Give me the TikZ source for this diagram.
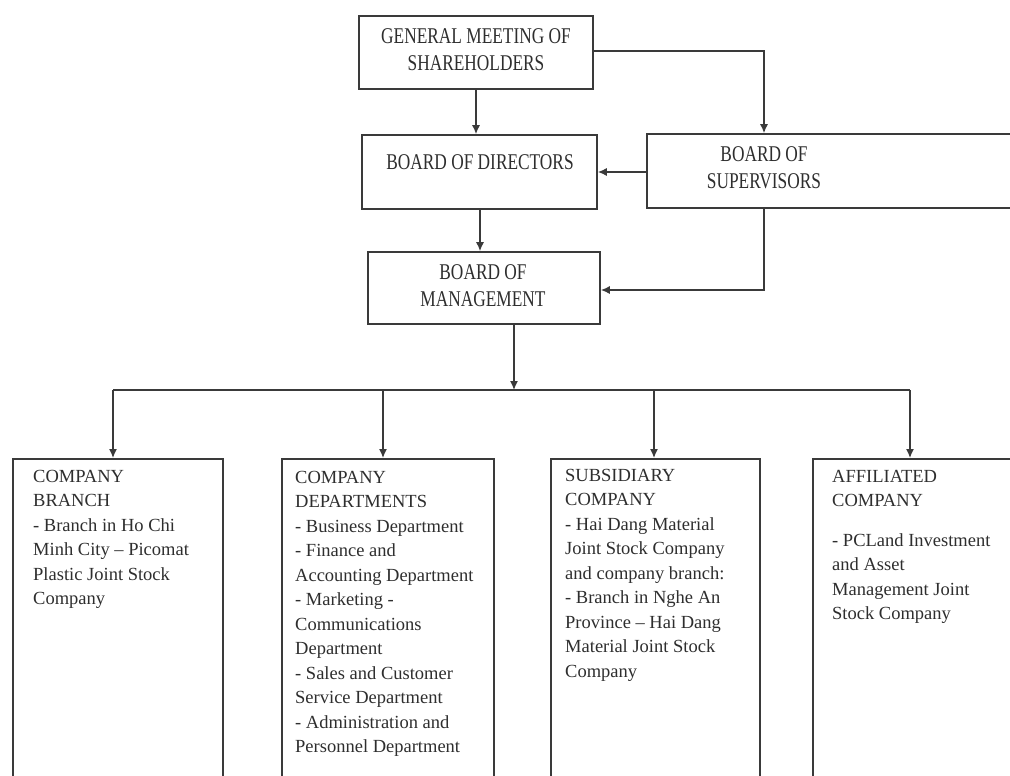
\documentclass[tikz,border=0pt]{standalone}
\usepackage{fontspec}
\setmainfont{Liberation Serif}
\newfontfamily\topfont[FakeStretch=0.77]{Liberation Serif}
\usetikzlibrary{arrows.meta}
\definecolor{ink}{HTML}{3A3A3A}
\definecolor{txt}{HTML}{2E2E2E}
\tikzset{
  box/.style={draw=ink, line width=1.6pt, inner sep=0pt},
  toplbl/.style={text=txt, align=center, inner sep=0pt, font=\topfont\fontsize{22.5}{27}\selectfont},
  botlbl/.style={text=txt, align=left, inner sep=0pt, anchor=north west, font=\fontsize{18.5}{24.5}\selectfont},
  conn/.style={draw=ink, line width=1.4pt},
  arr/.style={conn, -{Latex[length=9pt,width=8pt]}}
}
\begin{document}
\begin{tikzpicture}[x=1pt,y=-1pt]
\useasboundingbox (0,0) rectangle (1010,776);
\clip (0,0) rectangle (1010,776);
% top boxes
\node[box, minimum width=234pt, minimum height=73pt] (gm) at (476,52.5) {};
\node[box, minimum width=235pt, minimum height=74pt] (bod) at (479.5,172) {};
\node[box, minimum width=373pt, minimum height=74pt] (bos) at (833.5,171) {};
\node[box, minimum width=232pt, minimum height=72pt] (bom) at (484,288) {};
\node[toplbl] (gmt) at (476,50) {GENERAL MEETING OF\\SHAREHOLDERS};
\node[toplbl] (bodt) at (480,162) {BOARD OF DIRECTORS};
\node[toplbl] (bost) at (764,168) {BOARD OF\\SUPERVISORS};
\node[toplbl] (bomt) at (483,286) {BOARD OF\\MANAGEMENT};
% bottom boxes
\node[box, anchor=north west, minimum width=210pt, minimum height=340pt] (b1) at (12,458) {};
\node[box, anchor=north west, minimum width=212pt, minimum height=340pt] (b2) at (281,458) {};
\node[box, anchor=north west, minimum width=209pt, minimum height=340pt] (b3) at (550,458) {};
\node[box, anchor=north west, minimum width=210pt, minimum height=340pt] (b4) at (812,458) {};
\node[botlbl] (b1t) at (33,470) {COMPANY\\BRANCH\\- Branch in Ho Chi\\Minh City – Picomat\\Plastic Joint Stock\\Company};
\node[botlbl] (b2t) at (295,471) {COMPANY\\DEPARTMENTS\\- Business Department\\- Finance and\\Accounting Department\\- Marketing -\\Communications\\Department\\- Sales and Customer\\Service Department\\- Administration and\\Personnel Department};
\node[botlbl] (b3t) at (565,469) {SUBSIDIARY\\COMPANY\\- Hai Dang Material\\Joint Stock Company\\and company branch:\\- Branch in Nghe An\\Province – Hai Dang\\Material Joint Stock\\Company};
\node[botlbl] (b4t) at (832,470) {AFFILIATED\\COMPANY\\[15pt]- PCLand Investment\\and Asset\\Management Joint\\Stock Company};
% connectors
\draw[arr] (gmt.south |- gm.south) -- (gmt.south |- bod.north);
\draw[arr] (gm.east |- 0,51) -| (bost |- bos.north);
\draw[arr] (bos.west |- bod.east) -- (bod.east);
\draw[arr] (bodt.south |- bod.south) -- (bodt.south |- bom.north);
\draw[arr] (bost |- bos.south) |- (bom.east |- 0,290);
\coordinate (bus) at (514,390);
\coordinate (d1) at (113,390);
\coordinate (d2) at (383,390);
\coordinate (d3) at (654,390);
\coordinate (d4) at (910,390);
\draw[arr] (bus |- bom.south) -- (bus);
\draw[conn] (d1) -- (d4);
\draw[arr] (d1) -- (d1 |- b1.north);
\draw[arr] (d2) -- (d2 |- b2.north);
\draw[arr] (d3) -- (d3 |- b3.north);
\draw[arr] (d4) -- (d4 |- b4.north);
\end{tikzpicture}
\end{document}
